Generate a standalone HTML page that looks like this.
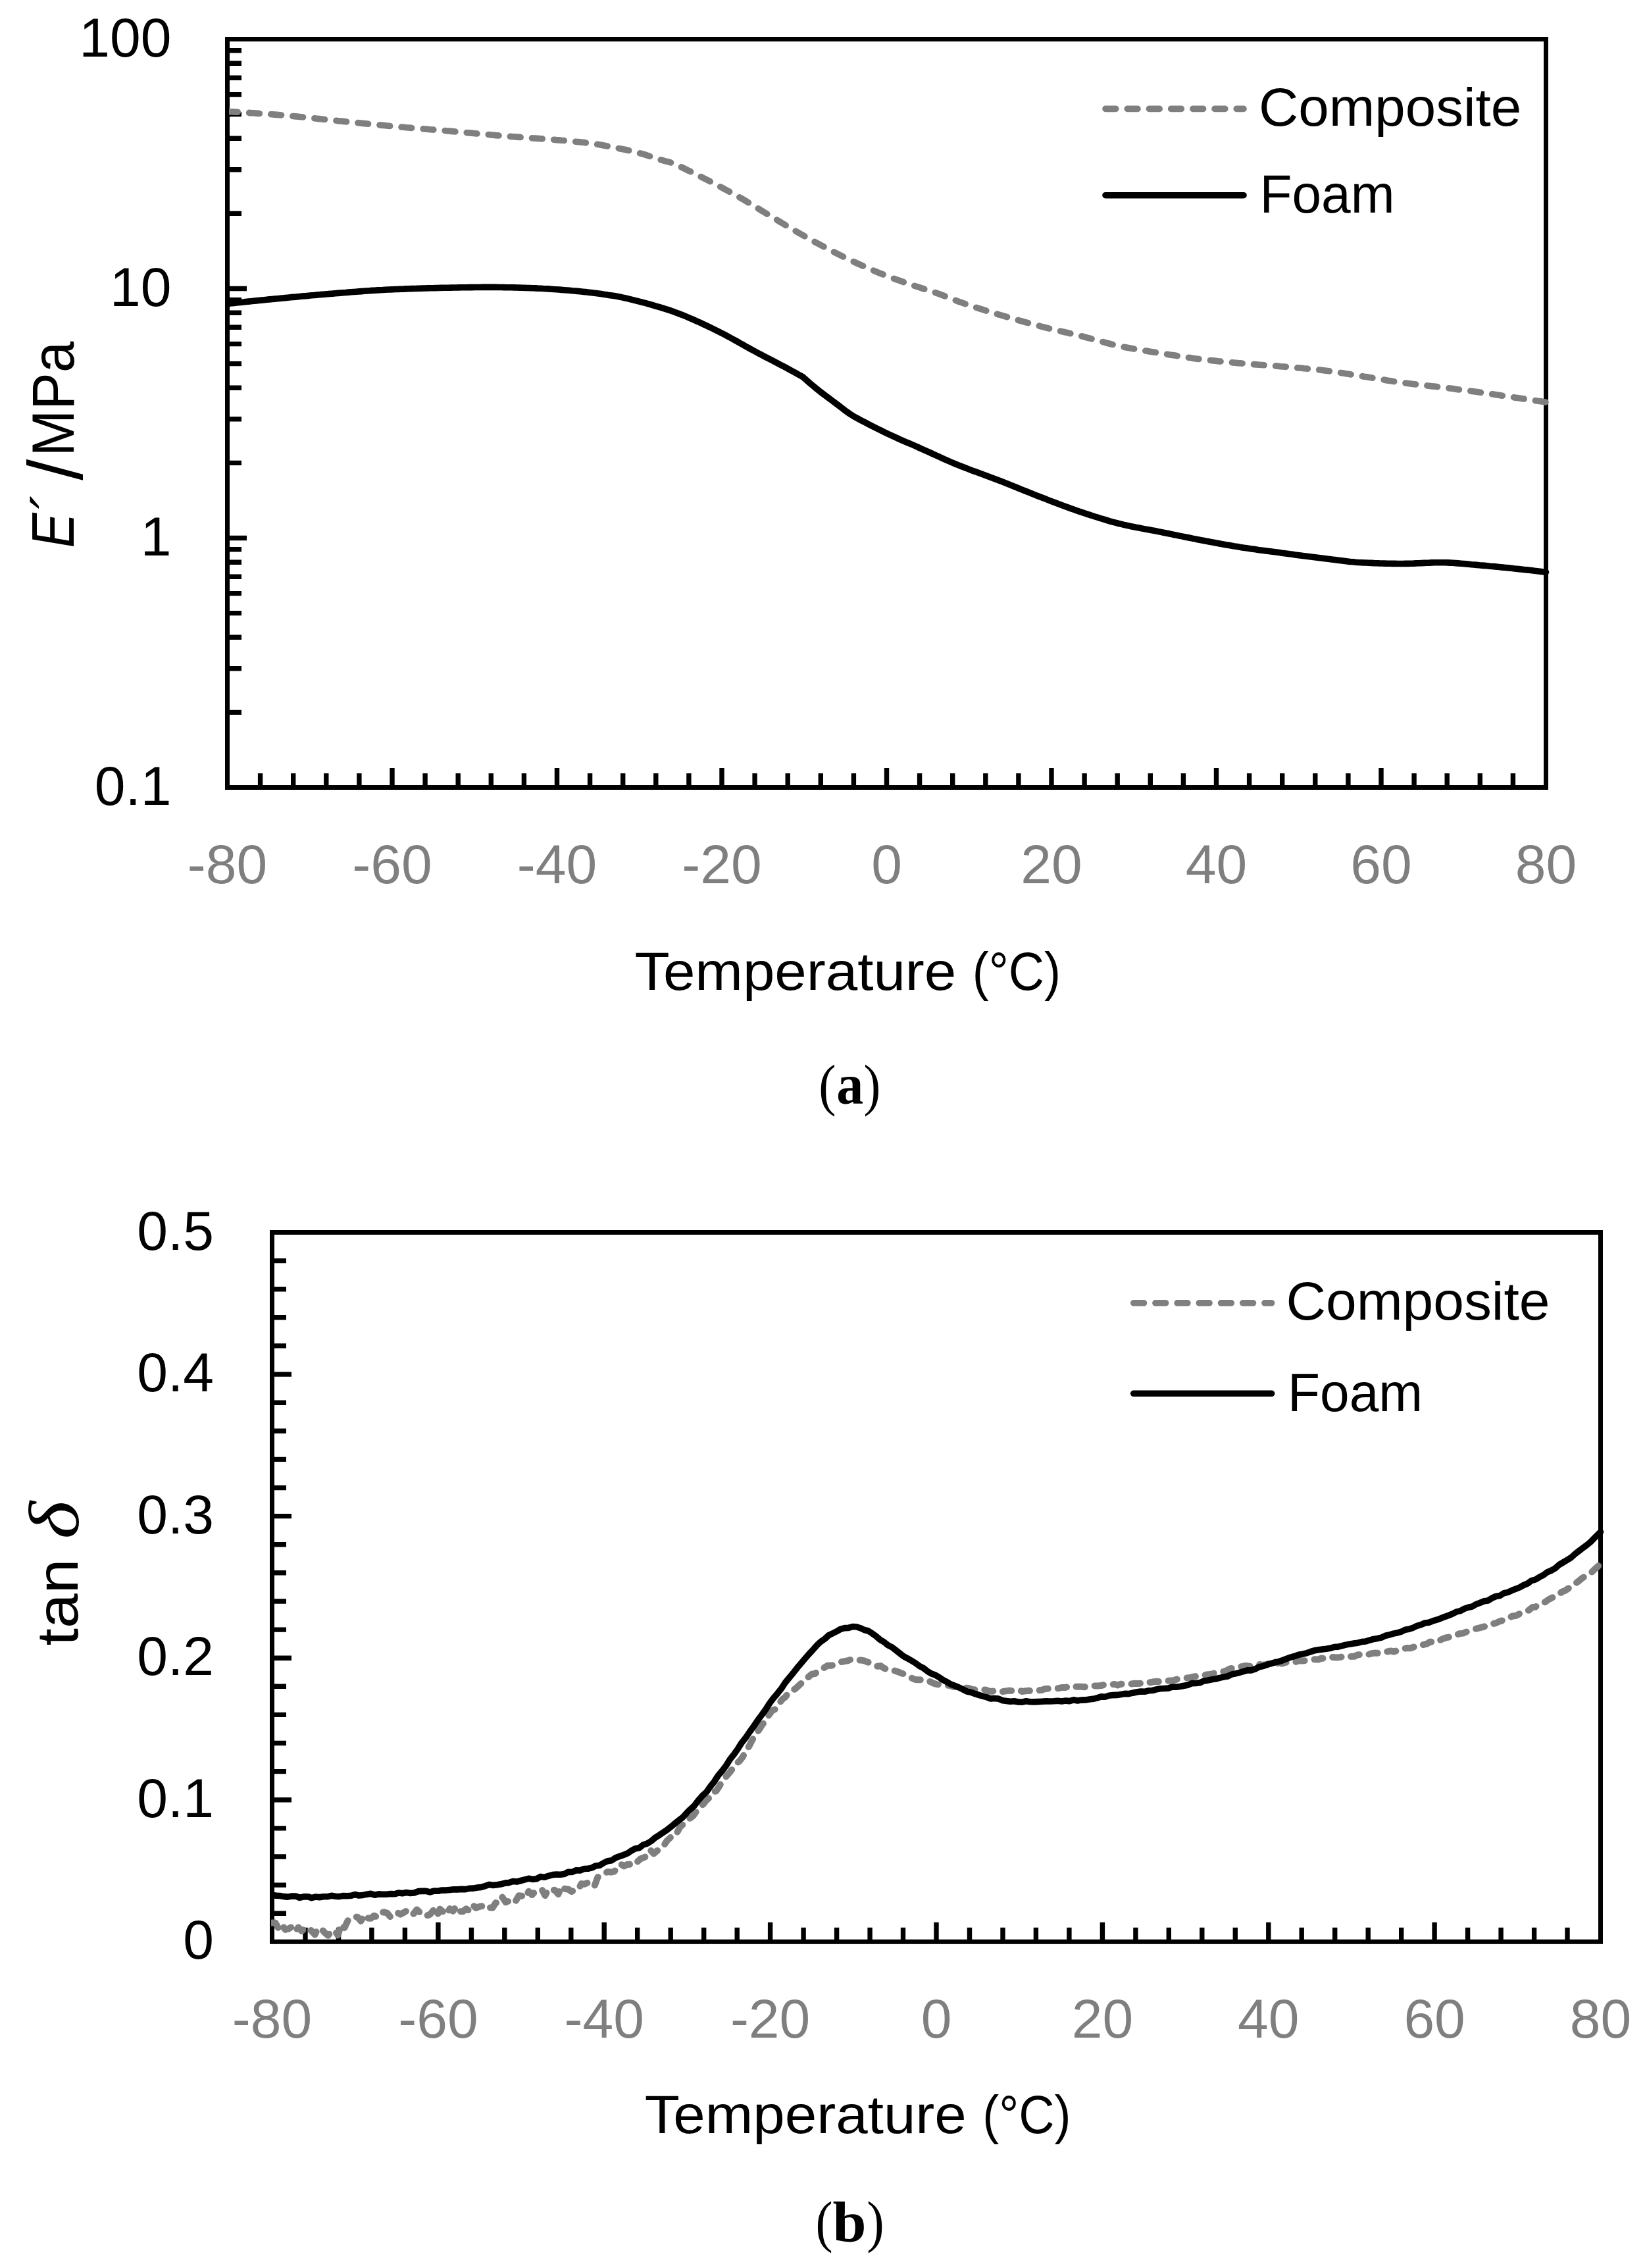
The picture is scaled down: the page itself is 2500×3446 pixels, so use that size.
<!DOCTYPE html>
<html lang="en"><head><meta charset="utf-8"><title>DMA results: storage modulus and tan delta versus temperature</title>
<style>html,body{margin:0;padding:0;background:#fff}svg{display:block}text{white-space:pre;fill:#000}.g{fill:#7f7f7f}.s{font-family:"Liberation Sans", sans-serif}.r{font-family:"Liberation Serif", serif}.i{font-style:italic}.b{font-weight:bold}</style></head><body>
<svg width="2500" height="3446" viewBox="0 0 2500 3446">
<rect width="2500" height="3446" fill="#fff"/>
<defs><clipPath id="ca"><rect x="348" y="0" width="2007.5" height="1300"/></clipPath><clipPath id="cb"><rect x="412" y="1800" width="2026.5" height="1300"/></clipPath></defs>
<rect x="345.5" y="59.5" width="2004" height="1137" fill="none" stroke="#000" stroke-width="7"/>
<path d="M395.6 1196.5 v-21.5 M445.7 1196.5 v-21.5 M495.8 1196.5 v-21.5 M545.9 1196.5 v-21.5 M596 1196.5 v-29.5 M646.1 1196.5 v-21.5 M696.2 1196.5 v-21.5 M746.3 1196.5 v-21.5 M796.4 1196.5 v-21.5 M846.5 1196.5 v-29.5 M896.6 1196.5 v-21.5 M946.7 1196.5 v-21.5 M996.8 1196.5 v-21.5 M1046.9 1196.5 v-21.5 M1097 1196.5 v-29.5 M1147.1 1196.5 v-21.5 M1197.2 1196.5 v-21.5 M1247.3 1196.5 v-21.5 M1297.4 1196.5 v-21.5 M1347.5 1196.5 v-29.5 M1397.6 1196.5 v-21.5 M1447.7 1196.5 v-21.5 M1497.8 1196.5 v-21.5 M1547.9 1196.5 v-21.5 M1598 1196.5 v-29.5 M1648.1 1196.5 v-21.5 M1698.2 1196.5 v-21.5 M1748.3 1196.5 v-21.5 M1798.4 1196.5 v-21.5 M1848.5 1196.5 v-29.5 M1898.6 1196.5 v-21.5 M1948.7 1196.5 v-21.5 M1998.8 1196.5 v-21.5 M2048.9 1196.5 v-21.5 M2099 1196.5 v-29.5 M2149.1 1196.5 v-21.5 M2199.2 1196.5 v-21.5 M2249.3 1196.5 v-21.5 M2299.4 1196.5 v-21.5" stroke="#000" stroke-width="7.4" fill="none"/>
<path d="M345.5 76.8 h21.5 M345.5 96.2 h21.5 M345.5 118.2 h21.5 M345.5 143.6 h21.5 M345.5 173.6 h21.5 M345.5 210.3 h21.5 M345.5 257.7 h21.5 M345.5 324.4 h21.5 M345.5 455.8 h21.5 M345.5 475.2 h21.5 M345.5 497.2 h21.5 M345.5 522.6 h21.5 M345.5 552.6 h21.5 M345.5 589.3 h21.5 M345.5 636.7 h21.5 M345.5 703.4 h21.5 M345.5 834.8 h21.5 M345.5 854.2 h21.5 M345.5 876.2 h21.5 M345.5 901.6 h21.5 M345.5 931.6 h21.5 M345.5 968.3 h21.5 M345.5 1015.7 h21.5 M345.5 1082.4 h21.5 M345.5 438.5 h29.5 M345.5 817.5 h29.5" stroke="#000" stroke-width="7.4" fill="none"/>
<path d="M345.5 169.5 L349.5 169.7 L353.5 169.9 L357.5 170.1 L361.5 170.3 L365.5 170.6 L369.5 170.8 L373.5 171 L377.5 171.3 L381.5 171.6 L385.5 171.8 L389.5 172.1 L393.5 172.4 L397.5 172.6 L401.5 172.9 L405.5 173.2 L409.5 173.5 L413.5 173.8 L417.5 174.1 L421.5 174.4 L425.5 174.7 L429.5 175.1 L433.5 175.4 L437.5 175.8 L441.5 176.1 L445.5 176.5 L449.5 176.9 L453.5 177.3 L457.5 177.7 L461.5 178.1 L465.5 178.5 L469.5 178.9 L473.5 179.4 L477.5 179.8 L481.5 180.2 L485.5 180.6 L489.5 181.1 L493.5 181.5 L497.5 181.9 L501.5 182.3 L505.5 182.7 L509.5 183.1 L513.5 183.6 L517.5 184 L521.5 184.4 L525.5 184.8 L529.5 185.2 L533.5 185.6 L537.5 186 L541.5 186.4 L545.5 186.8 L549.5 187.2 L553.5 187.6 L557.5 188 L561.5 188.5 L565.5 188.9 L569.5 189.3 L573.5 189.6 L577.5 190 L581.5 190.4 L585.5 190.8 L589.5 191.2 L593.5 191.6 L597.5 191.9 L601.5 192.3 L605.5 192.6 L609.5 193 L613.5 193.3 L617.5 193.7 L621.5 194 L625.5 194.4 L629.5 194.7 L633.5 195 L637.5 195.3 L641.5 195.7 L645.5 196 L649.5 196.3 L653.5 196.7 L657.5 197 L661.5 197.3 L665.5 197.7 L669.5 198 L673.5 198.3 L677.5 198.7 L681.5 199 L685.5 199.4 L689.5 199.7 L693.5 200.1 L697.5 200.5 L701.5 200.8 L705.5 201.2 L709.5 201.6 L713.5 201.9 L717.5 202.3 L721.5 202.7 L725.5 203.1 L729.5 203.4 L733.5 203.8 L737.5 204.2 L741.5 204.5 L745.5 204.9 L749.5 205.2 L753.5 205.6 L757.5 205.9 L761.5 206.3 L765.5 206.6 L769.5 206.9 L773.5 207.2 L777.5 207.5 L781.5 207.8 L785.5 208.1 L789.5 208.4 L793.5 208.7 L797.5 209 L801.5 209.3 L805.5 209.6 L809.5 209.9 L813.5 210.1 L817.5 210.4 L821.5 210.7 L825.5 211 L829.5 211.3 L833.5 211.6 L837.5 211.9 L841.5 212.2 L845.5 212.6 L849.5 212.9 L853.5 213.3 L857.5 213.6 L861.5 214 L865.5 214.3 L869.5 214.7 L873.5 215.1 L877.5 215.5 L881.5 215.9 L885.5 216.3 L889.5 216.8 L893.5 217.3 L897.5 217.8 L901.5 218.4 L905.5 219 L909.5 219.6 L913.5 220.3 L917.5 221 L921.5 221.8 L925.5 222.5 L929.5 223.3 L933.5 224.1 L937.5 224.9 L941.5 225.7 L945.5 226.5 L949.5 227.3 L953.5 228.2 L957.5 229.1 L961.5 230 L965.5 231 L969.5 232 L973.5 233.1 L977.5 234.2 L981.5 235.4 L985.5 236.7 L989.5 238.1 L993.5 239.5 L997.5 240.9 L1001.5 242.1 L1005.5 243.2 L1009.5 244.3 L1013.5 245.3 L1017.5 246.4 L1021.5 247.7 L1025.5 249.3 L1029.5 251 L1033.5 252.9 L1037.5 254.9 L1041.5 256.9 L1045.5 258.8 L1049.5 260.7 L1053.5 262.7 L1057.5 264.6 L1061.5 266.6 L1065.5 268.7 L1069.5 270.7 L1073.5 272.7 L1077.5 274.8 L1081.5 276.9 L1085.5 279 L1089.5 281.1 L1093.5 283.2 L1097.5 285.3 L1101.5 287.4 L1105.5 289.6 L1109.5 291.8 L1113.5 294 L1117.5 296.2 L1121.5 298.5 L1125.5 300.7 L1129.5 303 L1133.5 305.4 L1137.5 307.8 L1141.5 310.2 L1145.5 312.6 L1149.5 315.1 L1153.5 317.6 L1157.5 320.1 L1161.5 322.5 L1165.5 325 L1169.5 327.4 L1173.5 329.8 L1177.5 332.2 L1181.5 334.6 L1185.5 337.1 L1189.5 339.5 L1193.5 341.9 L1197.5 344.3 L1201.5 346.6 L1205.5 349 L1209.5 351.3 L1213.5 353.6 L1217.5 355.9 L1221.5 358.1 L1225.5 360.4 L1229.5 362.6 L1233.5 364.9 L1237.5 367.1 L1241.5 369.2 L1245.5 371.4 L1249.5 373.5 L1253.5 375.7 L1257.5 377.8 L1261.5 379.8 L1265.5 381.9 L1269.5 384 L1273.5 386 L1277.5 388 L1281.5 390 L1285.5 392 L1289.5 393.9 L1293.5 395.8 L1297.5 397.7 L1301.5 399.6 L1305.5 401.4 L1309.5 403.2 L1313.5 405 L1317.5 406.8 L1321.5 408.5 L1325.5 410.2 L1329.5 411.9 L1333.5 413.6 L1337.5 415.2 L1341.5 416.8 L1345.5 418.4 L1349.5 419.9 L1353.5 421.4 L1357.5 422.9 L1361.5 424.4 L1365.5 425.8 L1369.5 427.3 L1373.5 428.7 L1377.5 430.1 L1381.5 431.5 L1385.5 432.9 L1389.5 434.2 L1393.5 435.5 L1397.5 436.8 L1401.5 438.1 L1405.5 439.4 L1409.5 440.6 L1413.5 441.9 L1417.5 443.2 L1421.5 444.6 L1425.5 446 L1429.5 447.5 L1433.5 449 L1437.5 450.6 L1441.5 452.2 L1445.5 453.8 L1449.5 455.3 L1453.5 456.9 L1457.5 458.4 L1461.5 459.8 L1465.5 461.2 L1469.5 462.6 L1473.5 464 L1477.5 465.3 L1481.5 466.6 L1485.5 467.9 L1489.5 469.2 L1493.5 470.4 L1497.5 471.7 L1501.5 472.9 L1505.5 474.1 L1509.5 475.4 L1513.5 476.6 L1517.5 477.8 L1521.5 479 L1525.5 480.2 L1529.5 481.3 L1533.5 482.5 L1537.5 483.7 L1541.5 484.8 L1545.5 486 L1549.5 487.1 L1553.5 488.2 L1557.5 489.3 L1561.5 490.4 L1565.5 491.5 L1569.5 492.6 L1573.5 493.7 L1577.5 494.7 L1581.5 495.8 L1585.5 496.8 L1589.5 497.8 L1593.5 498.8 L1597.5 499.8 L1601.5 500.7 L1605.5 501.7 L1609.5 502.6 L1613.5 503.6 L1617.5 504.5 L1621.5 505.4 L1625.5 506.4 L1629.5 507.3 L1633.5 508.3 L1637.5 509.2 L1641.5 510.2 L1645.5 511.2 L1649.5 512.3 L1653.5 513.3 L1657.5 514.4 L1661.5 515.5 L1665.5 516.6 L1669.5 517.7 L1673.5 518.8 L1677.5 519.9 L1681.5 521 L1685.5 522 L1689.5 523.1 L1693.5 524 L1697.5 525 L1701.5 525.9 L1705.5 526.7 L1709.5 527.5 L1713.5 528.3 L1717.5 529 L1721.5 529.7 L1725.5 530.5 L1729.5 531.1 L1733.5 531.8 L1737.5 532.5 L1741.5 533.1 L1745.5 533.8 L1749.5 534.4 L1753.5 535 L1757.5 535.7 L1761.5 536.3 L1765.5 536.9 L1769.5 537.6 L1773.5 538.2 L1777.5 538.9 L1781.5 539.5 L1785.5 540.1 L1789.5 540.8 L1793.5 541.4 L1797.5 542 L1801.5 542.6 L1805.5 543.2 L1809.5 543.8 L1813.5 544.4 L1817.5 544.9 L1821.5 545.4 L1825.5 545.9 L1829.5 546.4 L1833.5 546.8 L1837.5 547.3 L1841.5 547.7 L1845.5 548.1 L1849.5 548.6 L1853.5 549 L1857.5 549.3 L1861.5 549.7 L1865.5 550.1 L1869.5 550.5 L1873.5 550.9 L1877.5 551.2 L1881.5 551.6 L1885.5 551.9 L1889.5 552.3 L1893.5 552.6 L1897.5 552.9 L1901.5 553.3 L1905.5 553.6 L1909.5 553.9 L1913.5 554.2 L1917.5 554.5 L1921.5 554.8 L1925.5 555.1 L1929.5 555.4 L1933.5 555.7 L1937.5 556 L1941.5 556.3 L1945.5 556.7 L1949.5 557 L1953.5 557.3 L1957.5 557.7 L1961.5 558 L1965.5 558.3 L1969.5 558.7 L1973.5 559 L1977.5 559.3 L1981.5 559.7 L1985.5 560 L1989.5 560.4 L1993.5 560.8 L1997.5 561.2 L2001.5 561.6 L2005.5 562 L2009.5 562.5 L2013.5 563 L2017.5 563.5 L2021.5 564 L2025.5 564.6 L2029.5 565.2 L2033.5 565.8 L2037.5 566.4 L2041.5 567 L2045.5 567.7 L2049.5 568.3 L2053.5 569 L2057.5 569.6 L2061.5 570.3 L2065.5 570.9 L2069.5 571.5 L2073.5 572.2 L2077.5 572.8 L2081.5 573.5 L2085.5 574.1 L2089.5 574.8 L2093.5 575.5 L2097.5 576.2 L2101.5 576.8 L2105.5 577.5 L2109.5 578.2 L2113.5 578.8 L2117.5 579.4 L2121.5 580.1 L2125.5 580.6 L2129.5 581.2 L2133.5 581.7 L2137.5 582.3 L2141.5 582.7 L2145.5 583.2 L2149.5 583.7 L2153.5 584.2 L2157.5 584.6 L2161.5 585.1 L2165.5 585.5 L2169.5 586 L2173.5 586.4 L2177.5 586.9 L2181.5 587.3 L2185.5 587.8 L2189.5 588.3 L2193.5 588.8 L2197.5 589.3 L2201.5 589.8 L2205.5 590.3 L2209.5 590.8 L2213.5 591.4 L2217.5 591.9 L2221.5 592.4 L2225.5 592.9 L2229.5 593.5 L2233.5 594 L2237.5 594.5 L2241.5 595.1 L2245.5 595.6 L2249.5 596.2 L2253.5 596.8 L2257.5 597.3 L2261.5 597.9 L2265.5 598.5 L2269.5 599.1 L2273.5 599.7 L2277.5 600.3 L2281.5 600.9 L2285.5 601.5 L2289.5 602.1 L2293.5 602.7 L2297.5 603.3 L2301.5 603.9 L2305.5 604.5 L2309.5 605.1 L2313.5 605.7 L2317.5 606.3 L2321.5 606.9 L2325.5 607.5 L2329.5 608.1 L2333.5 608.7 L2337.5 609.3 L2341.5 609.8 L2345.5 610.4 L2349.5 611" fill="none" stroke="#7f7f7f" stroke-width="9.6" stroke-linecap="round" stroke-linejoin="round" stroke-dasharray="15.8 17.4" clip-path="url(#ca)"/>
<path d="M345.5 461.5 L349.5 461.1 L353.5 460.6 L357.5 460.2 L361.5 459.8 L365.5 459.4 L369.5 459 L373.5 458.5 L377.5 458.1 L381.5 457.7 L385.5 457.3 L389.5 456.9 L393.5 456.5 L397.5 456.1 L401.5 455.7 L405.5 455.3 L409.5 454.9 L413.5 454.5 L417.5 454.1 L421.5 453.7 L425.5 453.4 L429.5 453 L433.5 452.6 L437.5 452.2 L441.5 451.8 L445.5 451.4 L449.5 451.1 L453.5 450.7 L457.5 450.3 L461.5 449.9 L465.5 449.6 L469.5 449.2 L473.5 448.8 L477.5 448.5 L481.5 448.1 L485.5 447.7 L489.5 447.4 L493.5 447.1 L497.5 446.7 L501.5 446.4 L505.5 446.1 L509.5 445.7 L513.5 445.4 L517.5 445.1 L521.5 444.8 L525.5 444.5 L529.5 444.1 L533.5 443.8 L537.5 443.5 L541.5 443.2 L545.5 442.9 L549.5 442.6 L553.5 442.3 L557.5 442 L561.5 441.7 L565.5 441.4 L569.5 441.2 L573.5 440.9 L577.5 440.7 L581.5 440.5 L585.5 440.2 L589.5 440 L593.5 439.9 L597.5 439.7 L601.5 439.5 L605.5 439.4 L609.5 439.2 L613.5 439.1 L617.5 438.9 L621.5 438.8 L625.5 438.6 L629.5 438.5 L633.5 438.4 L637.5 438.2 L641.5 438.1 L645.5 438 L649.5 437.9 L653.5 437.8 L657.5 437.7 L661.5 437.6 L665.5 437.5 L669.5 437.4 L673.5 437.3 L677.5 437.2 L681.5 437.2 L685.5 437.1 L689.5 437 L693.5 437 L697.5 436.9 L701.5 436.8 L705.5 436.8 L709.5 436.7 L713.5 436.6 L717.5 436.6 L721.5 436.5 L725.5 436.5 L729.5 436.5 L733.5 436.4 L737.5 436.4 L741.5 436.4 L745.5 436.4 L749.5 436.4 L753.5 436.4 L757.5 436.5 L761.5 436.5 L765.5 436.6 L769.5 436.7 L773.5 436.7 L777.5 436.8 L781.5 436.9 L785.5 437 L789.5 437.1 L793.5 437.3 L797.5 437.4 L801.5 437.5 L805.5 437.6 L809.5 437.7 L813.5 437.9 L817.5 438.1 L821.5 438.2 L825.5 438.5 L829.5 438.7 L833.5 438.9 L837.5 439.2 L841.5 439.5 L845.5 439.7 L849.5 440 L853.5 440.4 L857.5 440.7 L861.5 441 L865.5 441.3 L869.5 441.7 L873.5 442 L877.5 442.4 L881.5 442.8 L885.5 443.2 L889.5 443.6 L893.5 444.1 L897.5 444.5 L901.5 445 L905.5 445.5 L909.5 446 L913.5 446.6 L917.5 447.2 L921.5 447.7 L925.5 448.4 L929.5 449 L933.5 449.6 L937.5 450.3 L941.5 451 L945.5 451.9 L949.5 452.7 L953.5 453.6 L957.5 454.6 L961.5 455.6 L965.5 456.6 L969.5 457.6 L973.5 458.6 L977.5 459.7 L981.5 460.7 L985.5 461.8 L989.5 462.9 L993.5 464.1 L997.5 465.3 L1001.5 466.4 L1005.5 467.6 L1009.5 468.9 L1013.5 470.1 L1017.5 471.4 L1021.5 472.8 L1025.5 474.2 L1029.5 475.7 L1033.5 477.3 L1037.5 478.8 L1041.5 480.4 L1045.5 482.1 L1049.5 483.8 L1053.5 485.5 L1057.5 487.3 L1061.5 489.1 L1065.5 490.9 L1069.5 492.8 L1073.5 494.7 L1077.5 496.6 L1081.5 498.5 L1085.5 500.5 L1089.5 502.5 L1093.5 504.5 L1097.5 506.5 L1101.5 508.6 L1105.5 510.7 L1109.5 512.9 L1113.5 515.1 L1117.5 517.3 L1121.5 519.5 L1125.5 521.8 L1129.5 524 L1133.5 526.3 L1137.5 528.5 L1141.5 530.7 L1145.5 532.9 L1149.5 535.1 L1153.5 537.2 L1157.5 539.3 L1161.5 541.4 L1165.5 543.5 L1169.5 545.5 L1173.5 547.6 L1177.5 549.7 L1181.5 551.8 L1185.5 553.9 L1189.5 556 L1193.5 558.1 L1197.5 560.3 L1201.5 562.4 L1205.5 564.6 L1209.5 566.8 L1213.5 569.1 L1217.5 571.3 L1220.2 572.8 L1224.2 576.4 L1228.2 579.9 L1232.2 583.3 L1236.2 586.7 L1240.2 590 L1244.2 593.3 L1248.2 596.4 L1252.2 599.4 L1256.2 602.4 L1260.2 605.4 L1264.2 608.3 L1268.2 611.3 L1272.2 614.3 L1276.2 617.4 L1280.2 620.5 L1284.2 623.6 L1288.2 626.5 L1292.2 629.3 L1296.2 631.8 L1300.2 634.1 L1304.2 636.3 L1308.2 638.4 L1312.2 640.5 L1316.2 642.6 L1320.2 644.7 L1324.2 646.8 L1328.2 648.8 L1332.2 650.8 L1336.2 652.8 L1340.2 654.7 L1344.2 656.7 L1348.2 658.6 L1352.2 660.5 L1356.2 662.4 L1360.2 664.2 L1364.2 666 L1368.2 667.8 L1372.2 669.6 L1376.2 671.3 L1380.2 673 L1384.2 674.7 L1388.2 676.4 L1392.2 678.2 L1396.2 680 L1400.2 681.8 L1404.2 683.6 L1408.2 685.4 L1412.2 687.2 L1416.2 689 L1420.2 690.8 L1424.2 692.6 L1428.2 694.4 L1432.2 696.3 L1436.2 698.1 L1440.2 699.9 L1444.2 701.6 L1448.2 703.3 L1452.2 705 L1456.2 706.6 L1460.2 708.2 L1464.2 709.8 L1468.2 711.3 L1472.2 712.9 L1476.2 714.4 L1480.2 715.9 L1484.2 717.3 L1488.2 718.8 L1492.2 720.3 L1496.2 721.7 L1500.2 723.2 L1504.2 724.7 L1508.2 726.2 L1512.2 727.7 L1516.2 729.2 L1520.2 730.8 L1524.2 732.3 L1528.2 733.9 L1532.2 735.5 L1536.2 737.1 L1540.2 738.7 L1544.2 740.3 L1548.2 742 L1552.2 743.6 L1556.2 745.2 L1560.2 746.8 L1564.2 748.4 L1568.2 750 L1572.2 751.6 L1576.2 753.2 L1580.2 754.8 L1584.2 756.3 L1588.2 757.8 L1592.2 759.4 L1596.2 760.9 L1600.2 762.4 L1604.2 764 L1608.2 765.5 L1612.2 767 L1616.2 768.5 L1620.2 770 L1624.2 771.4 L1628.2 772.9 L1632.2 774.3 L1636.2 775.7 L1640.2 777.1 L1644.2 778.4 L1648.2 779.7 L1652.2 781.1 L1656.2 782.4 L1660.2 783.7 L1664.2 785 L1668.2 786.2 L1672.2 787.5 L1676.2 788.7 L1680.2 789.9 L1684.2 791.1 L1688.2 792.3 L1692.2 793.4 L1696.2 794.4 L1700.2 795.5 L1704.2 796.4 L1708.2 797.4 L1712.2 798.3 L1716.2 799.1 L1720.2 800 L1724.2 800.8 L1728.2 801.6 L1732.2 802.3 L1736.2 803.1 L1740.2 803.9 L1744.2 804.6 L1748.2 805.3 L1752.2 806.1 L1756.2 806.8 L1760.2 807.6 L1764.2 808.4 L1768.2 809.2 L1772.2 810 L1776.2 810.8 L1780.2 811.6 L1784.2 812.5 L1788.2 813.3 L1792.2 814.1 L1796.2 814.9 L1800.2 815.7 L1804.2 816.5 L1808.2 817.3 L1812.2 818.1 L1816.2 818.9 L1820.2 819.7 L1824.2 820.5 L1828.2 821.2 L1832.2 822 L1836.2 822.7 L1840.2 823.5 L1844.2 824.2 L1848.2 825 L1852.2 825.7 L1856.2 826.5 L1860.2 827.2 L1864.2 827.9 L1868.2 828.6 L1872.2 829.3 L1876.2 830 L1880.2 830.6 L1884.2 831.3 L1888.2 831.9 L1892.2 832.5 L1896.2 833.1 L1900.2 833.7 L1904.2 834.2 L1908.2 834.8 L1912.2 835.4 L1916.2 835.9 L1920.2 836.4 L1924.2 837 L1928.2 837.5 L1932.2 838 L1936.2 838.6 L1940.2 839.1 L1944.2 839.6 L1948.2 840.2 L1952.2 840.7 L1956.2 841.2 L1960.2 841.8 L1964.2 842.3 L1968.2 842.9 L1972.2 843.4 L1976.2 843.9 L1980.2 844.5 L1984.2 845 L1988.2 845.5 L1992.2 846 L1996.2 846.5 L2000.2 847 L2004.2 847.5 L2008.2 848 L2012.2 848.5 L2016.2 849 L2020.2 849.5 L2024.2 850.1 L2028.2 850.6 L2032.2 851.1 L2036.2 851.6 L2040.2 852.1 L2044.2 852.6 L2048.2 853.1 L2052.2 853.5 L2056.2 853.8 L2060.2 854.2 L2064.2 854.5 L2068.2 854.7 L2072.2 854.9 L2076.2 855 L2080.2 855.2 L2084.2 855.4 L2088.2 855.6 L2092.2 855.7 L2096.2 855.9 L2100.2 856 L2104.2 856.1 L2108.2 856.2 L2112.2 856.3 L2116.2 856.4 L2120.2 856.4 L2124.2 856.5 L2128.2 856.5 L2132.2 856.5 L2136.2 856.4 L2140.2 856.4 L2144.2 856.2 L2148.2 856.1 L2152.2 855.9 L2156.2 855.8 L2160.2 855.6 L2164.2 855.4 L2168.2 855.2 L2172.2 855.1 L2176.2 854.9 L2180.2 854.8 L2184.2 854.8 L2188.2 854.7 L2192.2 854.7 L2196.2 854.8 L2200.2 854.9 L2204.2 855.1 L2208.2 855.3 L2212.2 855.6 L2216.2 855.9 L2220.2 856.2 L2224.2 856.5 L2228.2 856.9 L2232.2 857.3 L2236.2 857.7 L2240.2 858 L2244.2 858.4 L2248.2 858.8 L2252.2 859.1 L2256.2 859.4 L2260.2 859.8 L2264.2 860.2 L2268.2 860.5 L2272.2 860.9 L2276.2 861.3 L2280.2 861.7 L2284.2 862.1 L2288.2 862.5 L2292.2 862.9 L2296.2 863.3 L2300.2 863.8 L2304.2 864.2 L2308.2 864.6 L2312.2 865 L2316.2 865.5 L2320.2 865.9 L2324.2 866.3 L2328.2 866.8 L2332.2 867.3 L2336.2 867.7 L2340.2 868.2 L2344.2 868.7 L2348.2 869.1 L2349.5 869.3" fill="none" stroke="#000" stroke-width="9.6" stroke-linecap="round" stroke-linejoin="round" clip-path="url(#ca)"/>
<text class="s" x="260.5" y="85.5" font-size="84" text-anchor="end">100</text>
<text class="s" x="260.5" y="464.5" font-size="84" text-anchor="end">10</text>
<text class="s" x="260.5" y="843.5" font-size="84" text-anchor="end">1</text>
<text class="s" x="260.5" y="1222.5" font-size="84" text-anchor="end">0.1</text>
<text class="s g" x="345.5" y="1342" font-size="84" text-anchor="middle">-80</text>
<text class="s g" x="596" y="1342" font-size="84" text-anchor="middle">-60</text>
<text class="s g" x="846.5" y="1342" font-size="84" text-anchor="middle">-40</text>
<text class="s g" x="1097" y="1342" font-size="84" text-anchor="middle">-20</text>
<text class="s g" x="1347.5" y="1342" font-size="84" text-anchor="middle">0</text>
<text class="s g" x="1598" y="1342" font-size="84" text-anchor="middle">20</text>
<text class="s g" x="1848.5" y="1342" font-size="84" text-anchor="middle">40</text>
<text class="s g" x="2099" y="1342" font-size="84" text-anchor="middle">60</text>
<text class="s g" x="2349.5" y="1342" font-size="84" text-anchor="middle">80</text>
<text><tspan class="s" x="964.4" y="1504.3" font-size="82" textLength="488.9" lengthAdjust="spacingAndGlyphs">Temperature</tspan> <tspan class="s" x="1477.8" y="1504.3" font-size="82" textLength="134.3" lengthAdjust="spacingAndGlyphs">(°C)</tspan></text>
<path d="M1680 165.4 H1890" stroke="#7f7f7f" stroke-width="9.6" stroke-linecap="round" stroke-dasharray="15.8 17.4" fill="none"/>
<path d="M1680 296.7 H1890" stroke="#000" stroke-width="9.6" stroke-linecap="round" fill="none"/>
<text class="s" x="1913" y="191.3" font-size="82" textLength="399.3" lengthAdjust="spacingAndGlyphs">Composite</text>
<text class="s" x="1914.4" y="322.7" font-size="82" textLength="205.2" lengthAdjust="spacingAndGlyphs">Foam</text>
<g transform="translate(111.7 0) rotate(-90)">
<text><tspan class="s i" x="-832.5" y="0" font-size="91" textLength="79.6" lengthAdjust="spacingAndGlyphs">E´</tspan> <tspan class="s" x="-729.7" y="13" font-size="117" textLength="32" lengthAdjust="spacingAndGlyphs">/</tspan><tspan class="s" x="-693.4" y="0" font-size="91" textLength="174.6" lengthAdjust="spacingAndGlyphs">MPa</tspan></text>
</g>
<text><tspan class="r" x="1244.3" y="1678.3" font-size="86" textLength="26.2" lengthAdjust="spacingAndGlyphs">(</tspan><tspan class="r b" x="1271.3" y="1677" font-size="86" textLength="41" lengthAdjust="spacingAndGlyphs">a</tspan><tspan class="r" x="1312.5" y="1678.3" font-size="86" textLength="25.8" lengthAdjust="spacingAndGlyphs">)</tspan></text>
<rect x="413.5" y="1872.5" width="2019" height="1077.8" fill="none" stroke="#000" stroke-width="7"/>
<path d="M464 2950.3 v-21.5 M514.5 2950.3 v-21.5 M564.9 2950.3 v-21.5 M615.4 2950.3 v-21.5 M665.9 2950.3 v-29.5 M716.4 2950.3 v-21.5 M766.8 2950.3 v-21.5 M817.3 2950.3 v-21.5 M867.8 2950.3 v-21.5 M918.2 2950.3 v-29.5 M968.7 2950.3 v-21.5 M1019.2 2950.3 v-21.5 M1069.7 2950.3 v-21.5 M1120.2 2950.3 v-21.5 M1170.6 2950.3 v-29.5 M1221.1 2950.3 v-21.5 M1271.6 2950.3 v-21.5 M1322.1 2950.3 v-21.5 M1372.5 2950.3 v-21.5 M1423 2950.3 v-29.5 M1473.5 2950.3 v-21.5 M1524 2950.3 v-21.5 M1574.4 2950.3 v-21.5 M1624.9 2950.3 v-21.5 M1675.4 2950.3 v-29.5 M1725.9 2950.3 v-21.5 M1776.3 2950.3 v-21.5 M1826.8 2950.3 v-21.5 M1877.3 2950.3 v-21.5 M1927.8 2950.3 v-29.5 M1978.2 2950.3 v-21.5 M2028.7 2950.3 v-21.5 M2079.2 2950.3 v-21.5 M2129.7 2950.3 v-21.5 M2180.1 2950.3 v-29.5 M2230.6 2950.3 v-21.5 M2281.1 2950.3 v-21.5 M2331.6 2950.3 v-21.5 M2382 2950.3 v-21.5" stroke="#000" stroke-width="7.4" fill="none"/>
<path d="M413.5 1915.6 h21.5 M413.5 1958.7 h21.5 M413.5 2001.8 h21.5 M413.5 2044.9 h21.5 M413.5 2088.1 h29.5 M413.5 2131.2 h21.5 M413.5 2174.3 h21.5 M413.5 2217.4 h21.5 M413.5 2260.5 h21.5 M413.5 2303.6 h29.5 M413.5 2346.7 h21.5 M413.5 2389.8 h21.5 M413.5 2433 h21.5 M413.5 2476.1 h21.5 M413.5 2519.2 h29.5 M413.5 2562.3 h21.5 M413.5 2605.4 h21.5 M413.5 2648.5 h21.5 M413.5 2691.6 h21.5 M413.5 2734.7 h29.5 M413.5 2777.9 h21.5 M413.5 2821 h21.5 M413.5 2864.1 h21.5 M413.5 2907.2 h21.5" stroke="#000" stroke-width="7.4" fill="none"/>
<path d="M413.5 2921.5 L418.5 2921.4 L423.5 2930.4 L428.5 2924.1 L433.5 2931.9 L438.5 2930.7 L443.5 2927.5 L448.5 2934.6 L453.5 2928.5 L458.5 2934.1 L463.5 2929 L468.5 2929.2 L473.5 2933.9 L478.5 2939.5 L483.5 2929.6 L488.5 2930.9 L493.5 2936.4 L498.5 2940.8 L503.5 2935.4 L508.5 2932.7 L513.5 2940.6 L518.5 2923.5 L523.5 2929.1 L528.5 2918.3 L533.5 2914.1 L538.5 2911.9 L543.5 2913 L548.5 2919 L553.5 2909.3 L558.5 2914.4 L563.5 2914.8 L568.5 2910.7 L573.5 2912.8 L578.5 2905.7 L583.5 2905.3 L588.5 2906.8 L593.5 2912.8 L598.5 2908.4 L603.5 2905.9 L608.5 2908.7 L613.5 2906 L618.5 2903.1 L623.5 2909.4 L628.5 2907.8 L633.5 2901.4 L638.5 2906.2 L643.5 2905.6 L648.5 2910.7 L653.5 2908.8 L658.5 2902.8 L663.5 2912.7 L668.5 2900.6 L673.5 2904.8 L678.5 2909.1 L683.5 2900 L688.5 2903.8 L693.5 2896.4 L698.5 2904.1 L703.5 2904.2 L708.5 2900.3 L713.5 2903.4 L718.5 2894.5 L723.5 2899 L728.5 2896.9 L733.5 2896.1 L738.5 2893.8 L743.5 2898.4 L748.5 2898.8 L753.5 2891 L758.5 2892.4 L763.5 2882.6 L768.5 2890.3 L773.5 2888.4 L778.5 2892.2 L783.5 2888.8 L788.5 2880.2 L793.5 2880.7 L798.5 2883.7 L803.5 2873.7 L808.5 2879 L813.5 2874 L818.5 2872.5 L823.5 2870.9 L828.5 2880 L833.5 2870.2 L838.5 2871 L843.5 2872.1 L848.5 2877.9 L853.5 2865.8 L858.5 2870 L863.5 2870.4 L868.5 2874 L873.5 2872 L878.5 2871.4 L883.5 2862.1 L888.5 2862.7 L893.5 2860.5 L898.5 2866.3 L903.5 2865.5 L908.5 2852.1 L913.5 2849.5 L918.5 2847 L923.5 2843.9 L928.5 2844.6 L933.5 2843.6 L938.5 2837.5 L943.5 2832.4 L948.5 2835.4 L953.5 2832.8 L958.5 2832.7 L963.5 2834.5 L968.5 2828.9 L973.5 2824.2 L978.5 2822.4 L983.5 2820.1 L988.5 2811 L993.5 2816.4 L998.5 2812.1 L1003.5 2809.5 L1008.5 2804.8 L1013.5 2796.9 L1018.5 2792.4 L1023.5 2785.3 L1028.5 2785.2 L1033.5 2776 L1038.5 2771.5 L1043.5 2767.9 L1048.5 2762.8 L1053.5 2759 L1058.5 2751.8 L1063.5 2746.1 L1068.5 2741.5 L1073.5 2735.4 L1078.5 2731 L1083.5 2722.8 L1088.5 2721.2 L1093.5 2713.5 L1098.5 2704.8 L1103.5 2699.4 L1108.5 2693.5 L1113.5 2687.3 L1118.5 2679.8 L1123.5 2676.1 L1128.5 2669.9 L1133.5 2660.5 L1138.5 2652.9 L1143.5 2643.3 L1148.5 2635.3 L1153.5 2628.3 L1158.5 2620.3 L1163.5 2615.2 L1168.5 2605.8 L1173.5 2599.1 L1178.5 2596.9 L1183.5 2589.4 L1188.5 2582.3 L1193.5 2578.6 L1198.5 2571.5 L1203.5 2568.7 L1208.5 2566.1 L1213.5 2561.5 L1218.5 2556.9 L1223.5 2551.3 L1228.5 2548.1 L1233.5 2543.8 L1238.5 2543 L1243.5 2539 L1248.5 2537.3 L1253.5 2533.1 L1258.5 2530.5 L1263.5 2530.7 L1268.5 2529.3 L1273.5 2526.9 L1278.5 2525.1 L1283.5 2524.1 L1288.5 2523.3 L1293.5 2521.3 L1298.5 2522.9 L1303.5 2522.9 L1308.5 2522.4 L1313.5 2523.4 L1318.5 2525.5 L1323.5 2526.6 L1328.5 2529.6 L1333.5 2531.8 L1338.5 2531.1 L1343.5 2534.7 L1348.5 2536.7 L1353.5 2538.6 L1358.5 2538.2 L1363.5 2539.7 L1368.5 2541.7 L1373.5 2543.5 L1378.5 2545.3 L1383.5 2548.5 L1388.5 2551.1 L1393.5 2552.3 L1398.5 2552.2 L1403.5 2553.9 L1408.5 2555.5 L1413.5 2555 L1418.5 2557.5 L1423.5 2559.1 L1428.5 2559.7 L1433.5 2560.5 L1438.5 2560.7 L1443.5 2560.8 L1448.5 2563 L1453.5 2562.6 L1458.5 2564.4 L1463.5 2565.5 L1468.5 2564.7 L1473.5 2565.3 L1478.5 2567.3 L1483.5 2567.4 L1488.5 2566.7 L1493.5 2567.1 L1498.5 2567.6 L1503.5 2569.8 L1508.5 2569.7 L1513.5 2568.2 L1518.5 2569.8 L1523.5 2570.2 L1528.5 2569.4 L1533.5 2568.6 L1538.5 2569.1 L1543.5 2568.1 L1548.5 2567.8 L1553.5 2570.1 L1558.5 2569.3 L1563.5 2568.8 L1568.5 2569.4 L1573.5 2567.8 L1578.5 2568.4 L1583.5 2567.8 L1588.5 2565.9 L1593.5 2565.6 L1598.5 2565.3 L1603.5 2564.8 L1608.5 2565.2 L1613.5 2564 L1618.5 2564 L1623.5 2562.9 L1628.5 2564.4 L1633.5 2562.7 L1638.5 2562.7 L1643.5 2562.7 L1648.5 2563.2 L1653.5 2561.8 L1658.5 2562.7 L1663.5 2561.5 L1668.5 2561.4 L1673.5 2561.1 L1678.5 2559.7 L1683.5 2560.4 L1688.5 2559.6 L1693.5 2558.9 L1698.5 2560.5 L1703.5 2558.7 L1708.5 2559.1 L1713.5 2559.4 L1718.5 2558.7 L1723.5 2557.8 L1728.5 2557.9 L1733.5 2557.7 L1738.5 2557.8 L1743.5 2555.8 L1748.5 2556.4 L1753.5 2555.2 L1758.5 2554.8 L1763.5 2555.4 L1768.5 2554.2 L1773.5 2553.8 L1778.5 2553.6 L1783.5 2553.3 L1788.5 2551.5 L1793.5 2551.2 L1798.5 2550.2 L1803.5 2549.5 L1808.5 2549.1 L1813.5 2547.6 L1818.5 2546.9 L1823.5 2545.8 L1828.5 2546 L1833.5 2544.4 L1838.5 2543.9 L1843.5 2543.1 L1848.5 2540.4 L1853.5 2540.1 L1858.5 2539.9 L1863.5 2538.5 L1868.5 2535.7 L1873.5 2534.6 L1878.5 2534.3 L1883.5 2532.5 L1888.5 2532 L1893.5 2530.9 L1898.5 2531.7 L1903.5 2531.4 L1908.5 2531.2 L1913.5 2528.9 L1918.5 2529.8 L1923.5 2529.2 L1928.5 2527.6 L1933.5 2528.9 L1938.5 2528.6 L1943.5 2526.4 L1948.5 2527.6 L1953.5 2525.8 L1958.5 2525.5 L1963.5 2526.2 L1968.5 2525.4 L1973.5 2523.3 L1978.5 2523.4 L1983.5 2523.1 L1988.5 2522.2 L1993.5 2521.4 L1998.5 2521.2 L2003.5 2521.6 L2008.5 2519.4 L2013.5 2520.2 L2018.5 2519.4 L2023.5 2517.9 L2028.5 2518.2 L2033.5 2518.4 L2038.5 2517.6 L2043.5 2516 L2048.5 2517.7 L2053.5 2516.8 L2058.5 2516.8 L2063.5 2514.2 L2068.5 2514.1 L2073.5 2513.1 L2078.5 2514.3 L2083.5 2512.5 L2088.5 2511.6 L2093.5 2511.7 L2098.5 2512.3 L2103.5 2511.4 L2108.5 2509.4 L2113.5 2508.4 L2118.5 2509.5 L2123.5 2507.9 L2128.5 2507.3 L2133.5 2505 L2138.5 2503.9 L2143.5 2504.3 L2148.5 2502.5 L2153.5 2500.3 L2158.5 2501 L2163.5 2498.8 L2168.5 2497.7 L2173.5 2494.5 L2178.5 2494.9 L2183.5 2491.6 L2188.5 2492.1 L2193.5 2489.8 L2198.5 2488.1 L2203.5 2487.3 L2208.5 2486.8 L2213.5 2483.8 L2218.5 2482.1 L2223.5 2481.6 L2228.5 2479.5 L2233.5 2477.7 L2238.5 2476.4 L2243.5 2474.6 L2248.5 2473.4 L2253.5 2472.2 L2258.5 2470.6 L2263.5 2470.1 L2268.5 2467.3 L2273.5 2466.1 L2278.5 2463.6 L2283.5 2462.2 L2288.5 2459.5 L2293.5 2458.1 L2298.5 2455.5 L2303.5 2455.1 L2308.5 2452.5 L2313.5 2449.4 L2318.5 2447.8 L2323.5 2446.6 L2328.5 2442.3 L2333.5 2441.6 L2338.5 2438.1 L2343.5 2435.7 L2348.5 2433.9 L2353.5 2430.2 L2358.5 2427.7 L2363.5 2425.3 L2368.5 2423.1 L2373.5 2418.7 L2378.5 2416.9 L2383.5 2413.5 L2388.5 2410.2 L2393.5 2406.4 L2398.5 2402.9 L2403.5 2398.7 L2408.5 2395.3 L2413.5 2391.5 L2418.5 2389.3 L2423.5 2384.2 L2428.5 2379.9 L2432.5 2376.4" fill="none" stroke="#7f7f7f" stroke-width="10" stroke-linecap="round" stroke-linejoin="round" stroke-dasharray="13.5 15" clip-path="url(#cb)"/>
<path d="M413.5 2878.9 L419.5 2880.3 L425.5 2880.5 L431.5 2881.6 L437.5 2882.1 L443.5 2881 L449.5 2881.1 L455.5 2883.4 L461.5 2881.9 L467.5 2881.7 L473.5 2883.6 L479.5 2882.1 L485.5 2882.8 L491.5 2881.7 L497.5 2881.8 L503.5 2880.3 L509.5 2881.3 L515.5 2881.6 L521.5 2880.5 L527.5 2880.8 L533.5 2880.3 L539.5 2878.5 L545.5 2880.1 L551.5 2879.4 L557.5 2878.3 L563.5 2877.3 L569.5 2879.2 L575.5 2877.9 L581.5 2878.2 L587.5 2878.3 L593.5 2877.6 L599.5 2877.8 L605.5 2876.1 L611.5 2876.8 L617.5 2875.5 L623.5 2876.5 L629.5 2876 L635.5 2873.6 L641.5 2873.4 L647.5 2873.3 L653.5 2874.9 L659.5 2873.1 L665.5 2873.2 L671.5 2872 L677.5 2872.1 L683.5 2871.4 L689.5 2870.8 L695.5 2870.9 L701.5 2870.4 L707.5 2870.6 L713.5 2869.3 L719.5 2869.1 L725.5 2868 L731.5 2867.4 L737.5 2865.6 L743.5 2863.4 L749.5 2864.4 L755.5 2863.8 L761.5 2862.8 L767.5 2861.1 L773.5 2860.6 L779.5 2858.4 L785.5 2859.1 L791.5 2857.5 L797.5 2855.8 L803.5 2854.3 L809.5 2855.4 L815.5 2854.8 L821.5 2851.4 L827.5 2852.3 L833.5 2850.3 L839.5 2848.6 L845.5 2848 L851.5 2848.2 L857.5 2847.5 L863.5 2844.2 L869.5 2844.5 L875.5 2841.7 L881.5 2842 L887.5 2839.5 L893.5 2839.3 L899.5 2837.9 L905.5 2834.9 L911.5 2834.2 L917.5 2830.5 L923.5 2827.7 L929.5 2826.7 L935.5 2822.8 L941.5 2820.6 L947.5 2818.4 L953.5 2816.1 L959.5 2812 L965.5 2808.7 L971.5 2807.7 L977.5 2803 L983.5 2801.2 L989.5 2797.5 L995.5 2792.4 L1001.5 2788.6 L1007.5 2784.6 L1013.5 2780.6 L1019.5 2775.8 L1025.5 2770.8 L1031.5 2765.9 L1037.5 2761.4 L1043.5 2754.7 L1049.5 2748.7 L1055.5 2743.2 L1061.5 2735.2 L1067.5 2728.4 L1073.5 2723 L1079.5 2714.4 L1085.5 2706.9 L1091.5 2697.7 L1097.5 2690.6 L1103.5 2682.6 L1109.5 2673 L1115.5 2665.5 L1121.5 2656.9 L1127.5 2647.4 L1133.5 2639.9 L1139.5 2631.1 L1145.5 2622.9 L1151.5 2613.8 L1157.5 2605.9 L1163.5 2597.6 L1169.5 2588.1 L1175.5 2580.1 L1181.5 2573.1 L1187.5 2565.6 L1193.5 2556.4 L1199.5 2549.1 L1205.5 2541.9 L1211.5 2534.2 L1217.5 2527.2 L1223.5 2520 L1229.5 2513.1 L1235.5 2506.7 L1241.5 2499.8 L1247.5 2494.3 L1253.5 2490.1 L1259.5 2484.6 L1265.5 2481.7 L1271.5 2478.7 L1277.5 2475.3 L1283.5 2473.6 L1289.5 2473.4 L1295.5 2471.6 L1301.5 2471.7 L1307.5 2473.7 L1313.5 2476.5 L1319.5 2478 L1325.5 2481.8 L1331.5 2486.1 L1337.5 2491.4 L1343.5 2494.9 L1349.5 2499.8 L1355.5 2502.8 L1361.5 2507.4 L1367.5 2512.1 L1373.5 2516.7 L1379.5 2519.9 L1385.5 2523.4 L1391.5 2527 L1397.5 2531.5 L1403.5 2534.6 L1409.5 2539.3 L1415.5 2542.9 L1421.5 2545.1 L1427.5 2548.6 L1433.5 2552.8 L1439.5 2555.8 L1445.5 2559.3 L1451.5 2561.6 L1457.5 2564 L1463.5 2566.9 L1469.5 2570.1 L1475.5 2571.2 L1481.5 2573.4 L1487.5 2575.4 L1493.5 2577.2 L1499.5 2578.7 L1505.5 2580.9 L1511.5 2580.5 L1517.5 2581.1 L1523.5 2583.7 L1529.5 2584.4 L1535.5 2585.2 L1541.5 2584.7 L1547.5 2586 L1553.5 2586.1 L1559.5 2584.8 L1565.5 2585.7 L1571.5 2585.9 L1577.5 2585.6 L1583.5 2585.3 L1589.5 2584.9 L1595.5 2585 L1601.5 2584.8 L1607.5 2584.3 L1613.5 2585 L1619.5 2584.1 L1625.5 2584.6 L1631.5 2582.8 L1637.5 2584 L1643.5 2583.1 L1649.5 2582.9 L1655.5 2582.1 L1661.5 2581.3 L1667.5 2579.8 L1673.5 2577.9 L1679.5 2578.3 L1685.5 2576.3 L1691.5 2575.6 L1697.5 2575.4 L1703.5 2574.4 L1709.5 2573.4 L1715.5 2573.6 L1721.5 2572.2 L1727.5 2571 L1733.5 2570 L1739.5 2570.3 L1745.5 2568.8 L1751.5 2568.5 L1757.5 2566.9 L1763.5 2565.8 L1769.5 2565.5 L1775.5 2565.1 L1781.5 2563.1 L1787.5 2563.2 L1793.5 2562.5 L1799.5 2561.2 L1805.5 2560.2 L1811.5 2557.6 L1817.5 2557.5 L1823.5 2556.8 L1829.5 2554 L1835.5 2553.2 L1841.5 2551.8 L1847.5 2551 L1853.5 2549.4 L1859.5 2548.1 L1865.5 2547.1 L1871.5 2544.2 L1877.5 2542.8 L1883.5 2541.3 L1889.5 2539.7 L1895.5 2537.9 L1901.5 2537.9 L1907.5 2535.9 L1913.5 2532.7 L1919.5 2531.6 L1925.5 2529.4 L1931.5 2527.6 L1937.5 2525.8 L1943.5 2524.6 L1949.5 2522.6 L1955.5 2520.3 L1961.5 2518.1 L1967.5 2516.4 L1973.5 2514.2 L1979.5 2513.2 L1985.5 2511.8 L1991.5 2509.7 L1997.5 2507.8 L2003.5 2506.7 L2009.5 2505.9 L2015.5 2505.2 L2021.5 2504.3 L2027.5 2502.5 L2033.5 2502.1 L2039.5 2500.6 L2045.5 2499.1 L2051.5 2497.9 L2057.5 2497 L2063.5 2496.2 L2069.5 2494.6 L2075.5 2493.9 L2081.5 2492.2 L2087.5 2490.4 L2093.5 2489.4 L2099.5 2488.1 L2105.5 2485.2 L2111.5 2484 L2117.5 2482.1 L2123.5 2481 L2129.5 2479.2 L2135.5 2476.3 L2141.5 2475.3 L2147.5 2473.2 L2153.5 2470.3 L2159.5 2468.6 L2165.5 2466 L2171.5 2465.2 L2177.5 2462.9 L2183.5 2461.2 L2189.5 2458.9 L2195.5 2456.6 L2201.5 2454.5 L2207.5 2452 L2213.5 2448.9 L2219.5 2447.6 L2225.5 2444.2 L2231.5 2442.2 L2237.5 2441 L2243.5 2437.4 L2249.5 2435.2 L2255.5 2432.8 L2261.5 2431.9 L2267.5 2428.2 L2273.5 2425.5 L2279.5 2424.5 L2285.5 2420.7 L2291.5 2419.4 L2297.5 2416.6 L2303.5 2414.3 L2309.5 2411.9 L2315.5 2408.5 L2321.5 2406 L2327.5 2401.7 L2333.5 2400 L2339.5 2396.3 L2345.5 2393.3 L2351.5 2388.7 L2357.5 2386.3 L2363.5 2382.9 L2369.5 2377.5 L2375.5 2374 L2381.5 2370.4 L2387.5 2366.7 L2393.5 2361.3 L2399.5 2356.6 L2405.5 2352 L2411.5 2347.6 L2417.5 2342.6 L2423.5 2336.4 L2429.5 2330.5 L2432.5 2327.6" fill="none" stroke="#000" stroke-width="9.6" stroke-linecap="round" stroke-linejoin="round" clip-path="url(#cb)"/>
<text class="s" x="325" y="1898.5" font-size="84" text-anchor="end">0.5</text>
<text class="s" x="325" y="2114.1" font-size="84" text-anchor="end">0.4</text>
<text class="s" x="325" y="2329.6" font-size="84" text-anchor="end">0.3</text>
<text class="s" x="325" y="2545.2" font-size="84" text-anchor="end">0.2</text>
<text class="s" x="325" y="2760.7" font-size="84" text-anchor="end">0.1</text>
<text class="s" x="325" y="2976.3" font-size="84" text-anchor="end">0</text>
<text class="s g" x="413.5" y="3096" font-size="84" text-anchor="middle">-80</text>
<text class="s g" x="665.9" y="3096" font-size="84" text-anchor="middle">-60</text>
<text class="s g" x="918.2" y="3096" font-size="84" text-anchor="middle">-40</text>
<text class="s g" x="1170.6" y="3096" font-size="84" text-anchor="middle">-20</text>
<text class="s g" x="1423" y="3096" font-size="84" text-anchor="middle">0</text>
<text class="s g" x="1675.4" y="3096" font-size="84" text-anchor="middle">20</text>
<text class="s g" x="1927.8" y="3096" font-size="84" text-anchor="middle">40</text>
<text class="s g" x="2180.1" y="3096" font-size="84" text-anchor="middle">60</text>
<text class="s g" x="2432.5" y="3096" font-size="84" text-anchor="middle">80</text>
<text><tspan class="s" x="979.8" y="3240.8" font-size="82" textLength="489" lengthAdjust="spacingAndGlyphs">Temperature</tspan> <tspan class="s" x="1493.3" y="3240.8" font-size="82" textLength="134.3" lengthAdjust="spacingAndGlyphs">(°C)</tspan></text>
<path d="M1722.7 1979.8 H1932.6" stroke="#7f7f7f" stroke-width="9.6" stroke-linecap="round" stroke-dasharray="15.8 17.4" fill="none"/>
<path d="M1722.7 2117.3 H1932.6" stroke="#000" stroke-width="9.6" stroke-linecap="round" fill="none"/>
<text class="s" x="1954.4" y="2005.3" font-size="82" textLength="401.1" lengthAdjust="spacingAndGlyphs">Composite</text>
<text class="s" x="1957" y="2143.7" font-size="82" textLength="205.2" lengthAdjust="spacingAndGlyphs">Foam</text>
<g transform="translate(117.9 0) rotate(-90)">
<text><tspan class="s" x="-2500.4" y="0" font-size="89" textLength="132" lengthAdjust="spacingAndGlyphs">tan</tspan> <tspan class="r i" x="-2338.6" y="1.5" font-size="108" textLength="57.6" lengthAdjust="spacingAndGlyphs">δ</tspan></text>
</g>
<text><tspan class="r" x="1239.5" y="3404.5" font-size="86" textLength="26.1" lengthAdjust="spacingAndGlyphs">(</tspan><tspan class="r b" x="1265.6" y="3404.5" font-size="86" textLength="51.1" lengthAdjust="spacingAndGlyphs">b</tspan><tspan class="r" x="1317.2" y="3404.5" font-size="86" textLength="26.5" lengthAdjust="spacingAndGlyphs">)</tspan></text>
</svg></body></html>
